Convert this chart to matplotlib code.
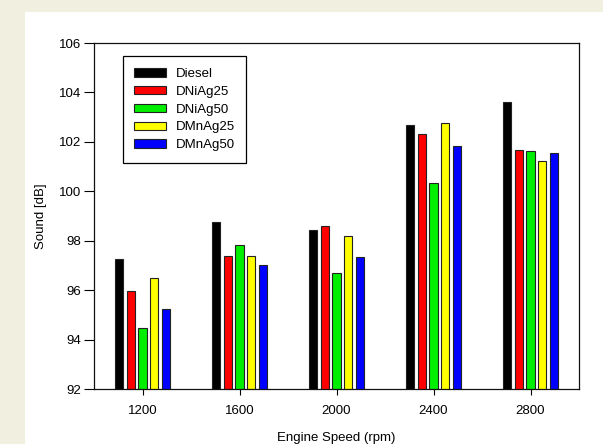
import numpy as np
import matplotlib.pyplot as plt
from matplotlib.patches import Rectangle

plt.rcParams['font.family'] = ['Liberation Sans', 'DejaVu Sans']

speeds = [1200, 1600, 2000, 2400, 2800]
fuels = ["Diesel", "DNiAg25", "DNiAg50", "DMnAg25", "DMnAg50"]
colors = ["#000000", "#ff0000", "#00ee00", "#ffff00", "#0000ff"]

diesel = [97.25, 98.75, 98.45, 102.67, 103.6]
dniag25 = [95.95, 97.37, 98.61, 102.33, 101.68]
dniag50 = [94.45, 97.83, 96.68, 100.33, 101.63]
dmnag25 = [96.5, 97.37, 98.19, 102.78, 101.21]
dmnag50 = [95.25, 97.03, 97.35, 101.84, 101.54]
series = [diesel, dniag25, dniag50, dmnag25, dmnag50]

fig = plt.figure(figsize=(6.03, 4.44), dpi=100)
fig.patch.set_facecolor('#f0efe0')
# white panel
fig.add_artist(Rectangle((25/603, 0), 1, 1 - 12/444, transform=fig.transFigure,
                         facecolor='white', edgecolor='none', zorder=0))

ax = fig.add_axes([94/603, 1 - 389/444, 485/603, 346/444])
x = np.array(speeds, dtype=float)
step = 48
width = 33
for i, (vals, name, c) in enumerate(zip(series, fuels, colors)):
    ax.bar(x + (i - 2) * step, vals, width=width, color=c, edgecolor='#222222',
           linewidth=0.8, label=name)

ax.set_xlim(1000, 3000)
ax.set_ylim(92, 106)
ax.set_xticks(speeds)
ax.set_yticks(range(92, 107, 2))
ax.tick_params(axis='y', direction='out', length=7, width=0.8, labelsize=9.5, pad=2)
ax.tick_params(axis='x', direction='out', length=4.5, width=0.8, labelsize=9.5, pad=7)
for s in ax.spines.values():
    s.set_linewidth(0.9)
    s.set_color('#111111')

ax.set_ylabel("Sound [dB]", fontsize=9.5, labelpad=8.5)
ax.set_xlabel("Engine Speed (rpm)", fontsize=9.5, labelpad=11)

leg = ax.legend(loc='upper left', bbox_to_anchor=(0.059, 0.962), borderaxespad=0,
                fontsize=9.5, frameon=True, fancybox=False, framealpha=1,
                edgecolor='black', handlelength=2.4, handleheight=0.6,
                labelspacing=0.44, handletextpad=0.7, borderpad=0.9)
leg.get_frame().set_linewidth(0.9)

fig.savefig("out.png", dpi=100, facecolor=fig.get_facecolor())
